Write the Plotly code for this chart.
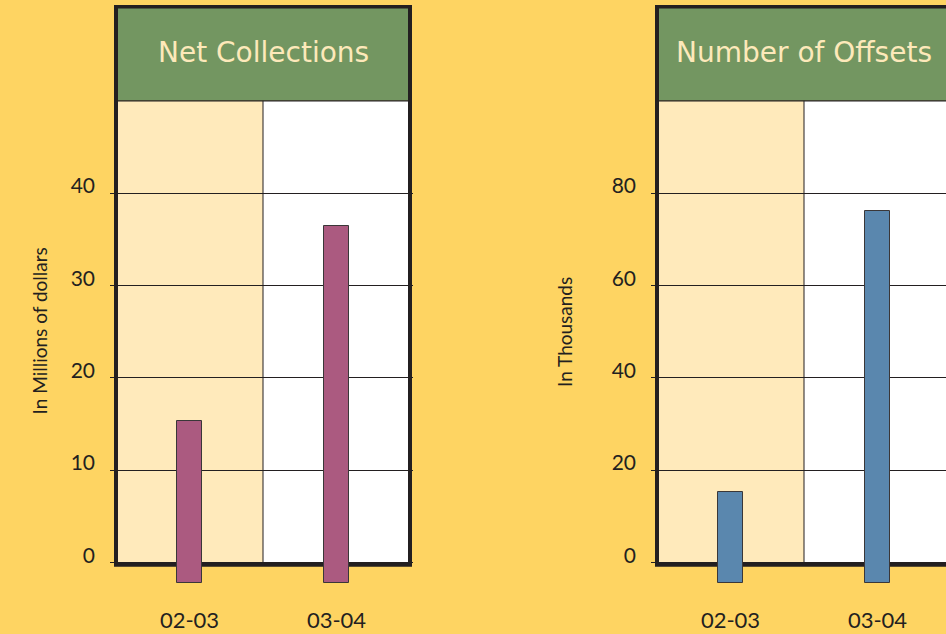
import plotly.graph_objects as go

# ---------------- data ----------------
categories = ["02-03", "03-04"]
net_collections = [15.3, 36.4]      # In Millions of dollars
num_offsets = [15.2, 76.1]          # In Thousands
left_ticks = [0, 10, 20, 30, 40]
right_ticks = [0, 20, 40, 60, 80]
left_title = "Net Collections"
right_title = "Number of Offsets"
left_ylabel = "In Millions of dollars"
right_ylabel = "In Thousands"

# ---------------- style ----------------
W, H = 946, 634
PAGE = "#FED462"
CREAM = "#FFEABB"
GREEN = "#739661"
TITLE_TXT = "#FDE9BA"
DARK = "#231F20"
MAGENTA = "#AB5A80"
BLUE = "#5A87AE"
FONT = "Lato"

MT, MB = 5, 29
plot_h = H - MT - MB
zero_px = 562.3           # pixel of value 0
px_per_unit_left = 9.23   # px per 1 unit on left axis
col_px = 147              # px per category

def yrange(scale):
    top = (zero_px - MT) / scale
    bot = -((H - MB) - zero_px) / scale
    return [bot, top]

def xr(left_px, right_px, frame_px):
    return [-0.5 - (frame_px - left_px) / col_px, -0.5 + (right_px - frame_px) / col_px]

L_dom = (110, 413); L_frame = 116
R_dom = (651, 946); R_frame = 657

fig = go.Figure()

panels = [
    dict(xa="x", ya="y", vals=net_collections, color=MAGENTA, top=50,
         scale=px_per_unit_left, title=left_title),
    dict(xa="x2", ya="y2", vals=num_offsets, color=BLUE, top=100,
         scale=px_per_unit_left / 2, title=right_title),
]

shapes = []
annotations = []
for p in panels:
    drop = 20.5 / p["scale"]
    fig.add_trace(go.Bar(
        x=categories, y=[v + drop for v in p["vals"]], base=-drop,
        xaxis=p["xa"], yaxis=p["ya"], width=0.17,
        marker=dict(color=p["color"], line=dict(color="#3A3738", width=1)),
        showlegend=False, hoverinfo="skip",
    ))
    frame_top = (zero_px - 6.5) / p["scale"]
    frame_bot = -2.4 / p["scale"]
    xref, yref = p["xa"], p["ya"]
    # column backgrounds
    shapes.append(dict(type="rect", xref=xref, yref=yref, x0=-0.5, x1=0.5, y0=0, y1=p["top"],
                       fillcolor=CREAM, line=dict(width=0), layer="below"))
    shapes.append(dict(type="rect", xref=xref, yref=yref, x0=0.5, x1=1.5, y0=0, y1=p["top"],
                       fillcolor="white", line=dict(width=0), layer="below"))
    # header
    shapes.append(dict(type="rect", xref=xref, yref=yref, x0=-0.5, x1=1.5, y0=p["top"], y1=frame_top,
                       fillcolor=GREEN, line=dict(width=0), layer="below"))
    # divider + header bottom line
    shapes.append(dict(type="line", xref=xref, yref=yref, x0=0.5, x1=0.5, y0=0, y1=p["top"],
                       line=dict(color=DARK, width=1), layer="below"))
    shapes.append(dict(type="line", xref=xref, yref=yref, x0=-0.5, x1=1.5, y0=p["top"], y1=p["top"],
                       line=dict(color=DARK, width=1.2), layer="below"))
    # frame
    shapes.append(dict(type="rect", xref=xref, yref=yref, x0=-0.5, x1=1.5, y0=frame_bot, y1=frame_top,
                       fillcolor="rgba(0,0,0,0)", line=dict(color=DARK, width=4), layer="below"))
    annotations.append(dict(xref=xref, yref=yref, x=0.5, y=(zero_px - 52.5) / p["scale"],
                            text=p["title"], showarrow=False,
                            font=dict(family="DejaVu Sans", size=28, color=TITLE_TXT)))

# y axis titles
annotations.append(dict(xref="paper", yref="paper", x=25 / W, y=((H - MB) - 331) / plot_h,
                        text=left_ylabel, textangle=-90, showarrow=False,
                        font=dict(family=FONT, size=19, color=DARK)))
annotations.append(dict(xref="paper", yref="paper", x=565 / W, y=((H - MB) - 332) / plot_h,
                        text=right_ylabel, textangle=-90, showarrow=False,
                        font=dict(family=FONT, size=19, color=DARK)))

yaxis_common = dict(showline=False, zeroline=False, showgrid=True, gridcolor=DARK, gridwidth=1,
                    ticks="", tickfont=dict(family=FONT, size=21, color=DARK),
                    ticklabelstandoff=14, ticklabelshift=-7, automargin=False, fixedrange=True)
xaxis_common = dict(showline=False, zeroline=False, showgrid=False, ticks="",
                    type="category", automargin=False,
                    tickfont=dict(family=FONT, size=22, color=DARK), fixedrange=True)

fig.update_layout(
    width=W, height=H,
    margin=dict(l=0, r=0, t=MT, b=MB, pad=0, autoexpand=False),
    paper_bgcolor=PAGE, plot_bgcolor=PAGE,
    xaxis=dict(domain=[L_dom[0] / W, L_dom[1] / W], range=xr(*L_dom, L_frame), **xaxis_common),
    xaxis2=dict(domain=[R_dom[0] / W, R_dom[1] / W], range=xr(*R_dom, R_frame), anchor="y2", **xaxis_common),
    yaxis=dict(range=yrange(px_per_unit_left), tickvals=left_ticks, anchor="x", **yaxis_common),
    yaxis2=dict(range=yrange(px_per_unit_left / 2), tickvals=right_ticks, anchor="x2", **yaxis_common),
    shapes=shapes, annotations=annotations,
    bargap=0,
)

fig.write_html("out.html")
